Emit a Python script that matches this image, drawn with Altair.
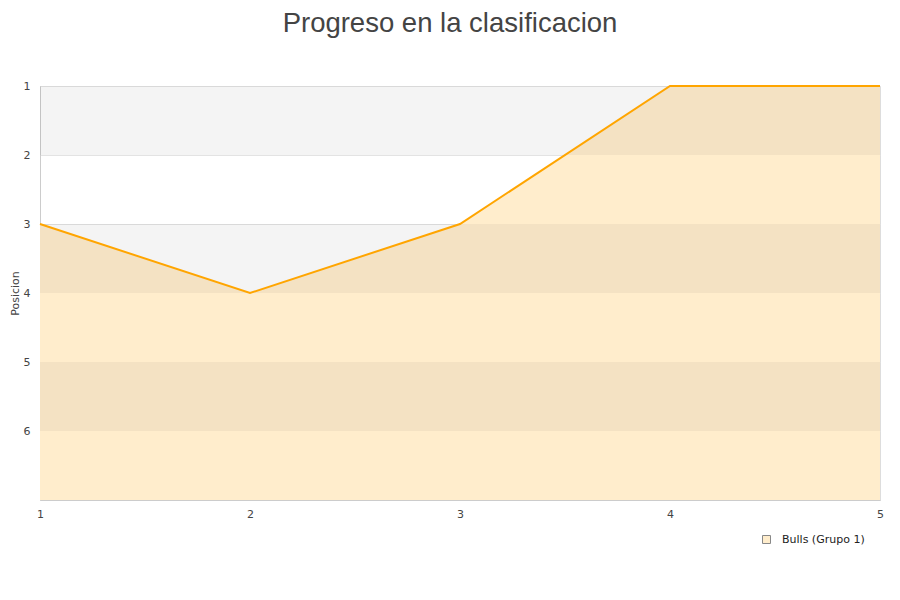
import altair as alt
import pandas as pd

jornadas = [1, 2, 3, 4, 5]
posiciones = [3, 4, 3, 1, 1]
equipo = "Bulls (Grupo 1)"

band_start = [1, 3, 5]
band_end = [2, 4, 6]

df = pd.DataFrame({"jornada": jornadas, "posicion": posiciones, "equipo": [equipo] * len(jornadas)})
bands = pd.DataFrame({"y": band_start, "y2": band_end})

yscale = alt.Scale(domain=[1, 7], reverse=True, nice=False, zero=False)
xscale = alt.Scale(domain=[1, 5], nice=False, zero=False)

area = alt.Chart(df).mark_area(opacity=1, color="#ffedcc").encode(
    x=alt.X("jornada:Q", scale=xscale,
            axis=alt.Axis(values=jornadas, format="d", title=None, grid=False, ticks=False,
                          domainColor="#cccccc", labelColor="#444444", labelFontSize=11,
                          labelPadding=8, labelFlush=False, labelFont="DejaVu Sans")),
    y=alt.Y("posicion:Q", scale=yscale,
            axis=alt.Axis(values=[1, 2, 3, 4, 5, 6, 7], labelExpr="datum.value < 7 ? datum.value : ''",
                          title="Posicion", grid=True, gridColor="#e3e3e3", ticks=False,
                          domainColor="#cccccc", labelColor="#444444", labelFontSize=11,
                          labelPadding=10, labelFont="DejaVu Sans", titleFont="DejaVu Sans",
                          titleFontSize=11, titleFontWeight="normal", titleColor="#444444",
                          titlePadding=3)),
    y2=alt.datum(7),
    fill=alt.Fill("equipo:N", scale=alt.Scale(domain=[equipo], range=["#ffedcc"]),
                  legend=alt.Legend(title=None, orient="none", legendX=721, legendY=448,
                                    symbolType="square", symbolSize=64, symbolStrokeColor="#888888",
                                    symbolStrokeWidth=1, labelFontSize=11, labelColor="#222222",
                                    labelOffset=10, labelFont="DejaVu Sans")),
)

band = alt.Chart(bands).mark_rect(color="black", opacity=0.045).encode(
    x=alt.datum(1, scale=xscale),
    x2=alt.datum(5),
    y=alt.Y("y:Q", scale=yscale),
    y2="y2:Q",
)

line = alt.Chart(df).mark_line(color="#ffa500", strokeWidth=2).encode(
    x=alt.X("jornada:Q", scale=xscale),
    y=alt.Y("posicion:Q", scale=yscale),
)

chart = alt.layer(area, band, line).properties(
    width=840, height=414,
    title=alt.TitleParams("Progreso en la clasificacion", fontSize=27.5, font="Liberation Sans",
                          fontWeight="normal", color="#444444", anchor="middle", dx=-10, offset=43),
    autosize=alt.AutoSizeParams(type="none"),
    padding={"left": 32, "top": 78, "right": 12, "bottom": 70},
).configure_view(stroke="#dddddd")

chart.save("out.html", embed_options={"renderer": "svg", "actions": False})
